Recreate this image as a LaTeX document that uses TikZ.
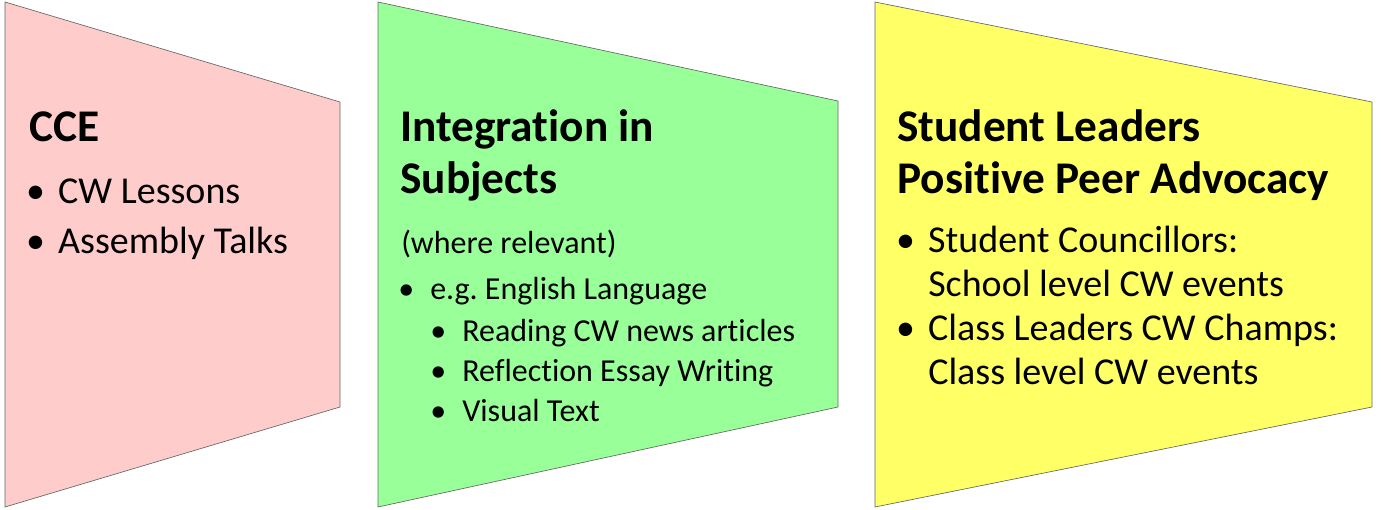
\documentclass[tikz,border=0pt]{standalone}
\usepackage{fontspec}
\setmainfont[Ligatures={NoCommon}]{Carlito}
\usepackage{tikz}
\frenchspacing

\definecolor{cepink}{HTML}{FFCCCC}
\definecolor{subgreen}{HTML}{99FF99}
\definecolor{leadyellow}{HTML}{FFFF66}

\tikzset{
  panel/.style={draw=gray!80!black, line width=0.5pt},
  heading/.style={anchor=base west, inner sep=0pt, align=left,
    font=\fontsize{34}{39}\selectfont\bfseries},
  item/.style={anchor=base west, inner sep=0pt, align=left,
    font=\fontsize{28.5}{33}\selectfont},
  subitem/.style={anchor=base west, inner sep=0pt,
    font=\fontsize{24}{30}\selectfont}
}
\newcommand{\bul}[1]{\llap{\textbullet\hspace{#1}}}

\begin{document}
\begin{tikzpicture}[x=0.75pt,y=-0.75pt]
    \useasboundingbox (0,0) rectangle (1381,510);

    % Panels
    \draw[panel,fill=cepink] (5,2) -- (340,102) -- (340,407) -- (5,507) -- cycle;
    \draw[panel,fill=subgreen] (378,2) -- (838,101) -- (838,407) -- (378,507) -- cycle;
    \draw[panel,fill=leadyellow] (875,2) -- (1372,102) -- (1372,407) -- (875,507) -- cycle;

    % CCE
    \node[heading] (cce) at (29,141) {CCE};
    \node[item] (lessons) at (58,203) {\bul{10pt}CW Lessons};
    \node[item] (talks) at (58,253) {\bul{10pt}Assembly Talks};

    % Integration in Subjects (base = last line)
    \node[heading] (integ) at (400,193) {Integration in\\Subjects};
    \node[subitem] (relevant) at (401,253) {(where relevant)};
    \node[subitem] (english) at (430,299) {\bul{12pt}e.g. English Language};
    \node[subitem] (reading) at (462,341) {\bul{12pt}Reading CW news articles};
    \node[subitem] (essay) at (462,381) {\bul{12pt}Reflection Essay Writing};
    \node[subitem] (visual) at (462,421) {\bul{12pt}Visual Text};

    % Student Leaders
    \node[heading] (leaders) at (897,193) {Student Leaders\\Positive Peer Advocacy};
    \node[item] (council) at (928,296) {\bul{10pt}Student Councillors:\\School level CW events};
    \node[item] (champs) at (928,384) {\bul{10pt}Class Leaders CW Champs:\\Class level CW events};
\end{tikzpicture}
\end{document}
